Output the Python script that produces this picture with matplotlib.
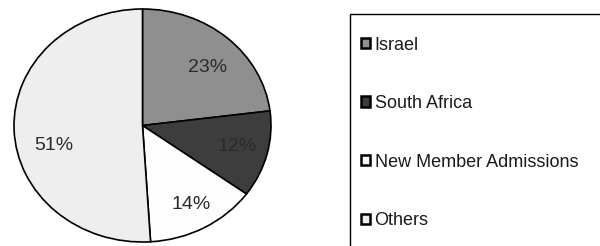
import matplotlib
matplotlib.use("Agg")
import matplotlib.pyplot as plt
from matplotlib.patches import Patch, Rectangle

plt.rcParams['font.family'] = ['Liberation Sans', 'DejaVu Sans']

# data
labels = ['Israel', 'South Africa', 'New Member Admissions', 'Others']
shares = [23, 12, 14, 51]
colors = ['#8f8f8f', '#3d3d3d', '#fdfdfd', '#eeeeee']

W, H = 600, 246
fig = plt.figure(figsize=(6.0, 2.46), dpi=100)

# pie is a bit wider than tall in the original, so no equal aspect
cx, cy = 142.5, 246 - 125.5
rx, ry = 128.5, 116.5
lim = 1.02
ax = fig.add_axes([(cx - rx * lim) / W, (cy - ry * lim) / H,
                   2 * rx * lim / W, 2 * ry * lim / H])
wedges, texts, autotexts = ax.pie(
    shares, colors=colors, startangle=90, counterclock=False,
    autopct='%d%%', pctdistance=0.74,
    wedgeprops=dict(edgecolor='black', linewidth=1.2),
    textprops=dict(fontsize=14, color='#2a2a2a'))
# nudge labels to where the original has them (x, y in radius units)
nudges = [(0.02, -0.06), (0.02, 0.0), (0.02, -0.03), (0.05, -0.15)]
for t, (dx, dy) in zip(autotexts, nudges):
    x, y = t.get_position()
    t.set_position((x + dx, y + dy))
ax.set_aspect('auto')
ax.set_xlim(-lim, lim)
ax.set_ylim(-lim, lim)

# legend box, cut off by the right and bottom edges like the original
fig.patches.append(Rectangle((350 / W, -0.05), 0.5, (246 - 14) / H + 0.05,
                             transform=fig.transFigure, fill=False,
                             edgecolor='black', linewidth=1.0))

handles = [Patch(facecolor=c, edgecolor='black', linewidth=1.8) for c in colors]
fig.legend(handles, labels, loc='upper left',
           bbox_to_anchor=(361 / W, (246 - 36.5) / H),
           frameon=False, fontsize=13, handlelength=0.5, handleheight=0.5,
           handletextpad=0.25, labelspacing=2.3, borderpad=0, borderaxespad=0,
           labelcolor='#1a1a1a')

fig.savefig('out.png', dpi=100)
